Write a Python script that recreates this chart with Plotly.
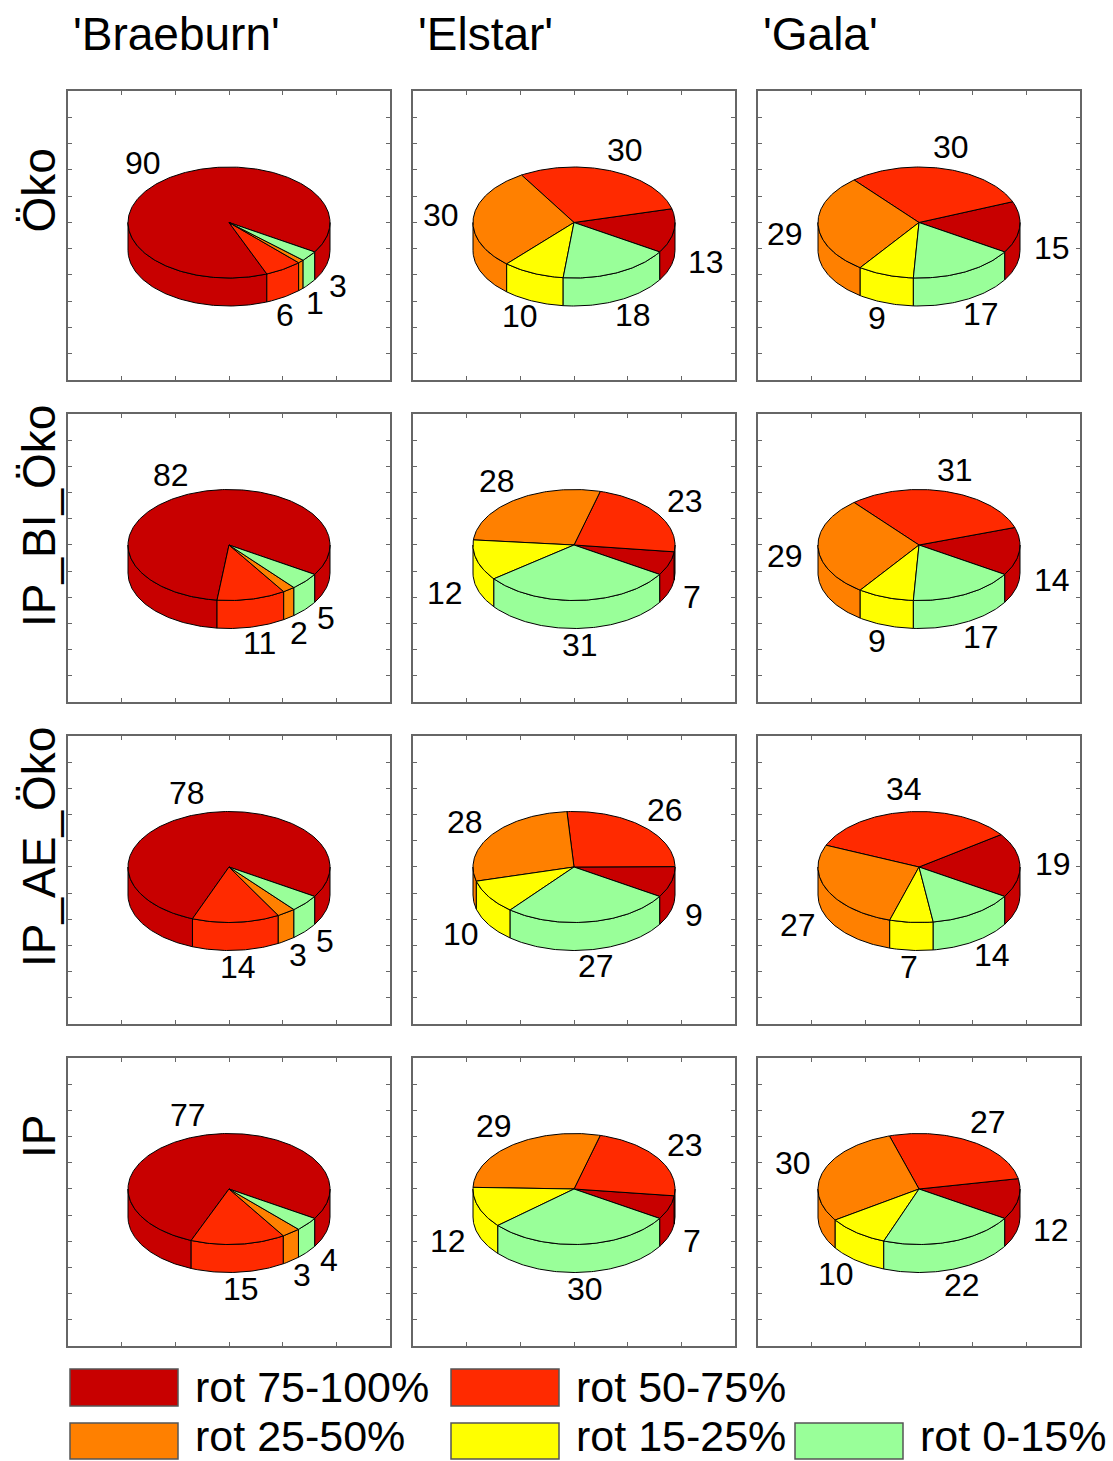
import numpy as np
import plotly.graph_objects as go

# ---------------- data ----------------
varieties = ["'Braeburn'", "'Elstar'", "'Gala'"]
systems = ["Öko", "IP_BI_Öko", "IP_AE_Öko", "IP"]
classes = ["rot 75-100%", "rot 50-75%", "rot 25-50%", "rot 15-25%", "rot 0-15%"]
colors = ["#C80000", "#FF2A00", "#FF8000", "#FFFF00", "#99FF99"]

# shares (%) per system (rows: Öko, IP_BI_Öko, IP_AE_Öko, IP); order = classes
braeburn = [[90, 6, 1, 0, 3], [82, 11, 2, 0, 5], [78, 14, 3, 0, 5], [77, 15, 3, 0, 4]]
elstar = [[13, 30, 30, 10, 18], [7, 23, 28, 12, 31], [9, 26, 28, 10, 27], [7, 23, 29, 12, 30]]
gala = [[15, 30, 29, 9, 17], [14, 31, 29, 9, 17], [19, 34, 27, 7, 14], [12, 27, 30, 10, 22]]
values = [braeburn, elstar, gala]

# ---------------- layout constants ----------------
W, H = 1113, 1461
col_px = [(68, 390), (413, 735), (758, 1080)]
row_px = [(91, 380), (414, 702), (736, 1024), (1058, 1346)]
row_label_dy = [-45, -42, -33, -65]
FONT = "Liberation Sans, Arial, sans-serif"

RX, RY, DEPTH, CY = 101.0, 55.5, 28.0, 13.0
START = -32.0
KX, KY_TOP, KY_BOT, OFF, MINSEP = 1.15, 1.2, 1.09, 28.0, 17.0
LAB_SIZE = 32


def px2x(px):
    return px / W


def px2y(py):
    return 1 - py / H


fig = go.Figure()
layout = dict(
    width=W, height=H, margin=dict(l=0, r=0, t=0, b=0),
    paper_bgcolor="white", plot_bgcolor="white", showlegend=False,
)
annotations = []
shapes = []


def arc(a, b, dz=0.0):
    n = max(2, int(abs(b - a)) + 2)
    t = np.radians(np.linspace(a, b, n))
    return RX * np.cos(t), CY + RY * np.sin(t) - dz


p = 0
for r in range(4):
    for c in range(3):
        p += 1
        xa = "x" if p == 1 else f"x{p}"
        ya = "y" if p == 1 else f"y{p}"
        xk = "xaxis" if p == 1 else f"xaxis{p}"
        yk = "yaxis" if p == 1 else f"yaxis{p}"
        x0, x1 = col_px[c]
        y0, y1 = row_px[r]
        hw, hh = (x1 - x0) / 2, (y1 - y0) / 2
        common = dict(showgrid=False, zeroline=False, showticklabels=False,
                      ticks="inside", ticklen=4, tickcolor="#666", tickwidth=1,
                      showline=True, linecolor="#666", linewidth=1.5,
                      mirror="ticks", fixedrange=True)
        layout[xk] = dict(domain=[px2x(x0), px2x(x1)], range=[-hw, hw],
                          anchor=ya, tick0=-hw, dtick=2 * hw / 6, **common)
        layout[yk] = dict(domain=[px2y(y1), px2y(y0)], range=[-hh, hh],
                          anchor=xa, tick0=-hh, dtick=2 * hh / 11, **common)

        vals = values[c][r]
        total = float(sum(vals))
        a = START
        slices = []
        for i, v in enumerate(vals):
            span = 360.0 * v / total
            slices.append((i, v, a, a + span))
            a += span

        # side walls (front half: sin < 0)
        for i, v, s, e in slices:
            if v <= 0:
                continue
            for lo_f, hi_f in ((-180.0, 0.0), (180.0, 360.0)):
                lo, hi = max(s, lo_f), min(e, hi_f)
                if hi - lo <= 0.01:
                    continue
                tx, ty = arc(lo, hi)
                bx, by = arc(hi, lo, DEPTH)
                xs = np.concatenate([tx, bx, tx[:1]])
                ys = np.concatenate([ty, by, ty[:1]])
                fig.add_trace(go.Scatter(x=xs, y=ys, xaxis=xa, yaxis=ya, mode="lines",
                                         fill="toself", fillcolor=colors[i],
                                         line=dict(color="black", width=1),
                                         hoverinfo="skip"))
        # top faces
        for i, v, s, e in slices:
            if v <= 0:
                continue
            tx, ty = arc(s, e)
            xs = np.concatenate([[0], tx, [0]])
            ys = np.concatenate([[CY], ty, [CY]])
            fig.add_trace(go.Scatter(x=xs, y=ys, xaxis=xa, yaxis=ya, mode="lines",
                                     fill="toself", fillcolor=colors[i],
                                     line=dict(color="black", width=1),
                                     hoverinfo="skip"))

        # labels with simple collision relaxation
        labs = [(v, (s + e) / 2) for i, v, s, e in slices if v > 0]
        labs.sort(key=lambda t: t[1])
        mids = [m for _, m in labs]
        for _ in range(200):
            moved = False
            for j in range(len(mids) - 1):
                d = mids[j + 1] - mids[j]
                if d < MINSEP - 1e-6:
                    push = (MINSEP - d) / 2
                    mids[j] -= push
                    mids[j + 1] += push
                    moved = True
            if not moved:
                break
        for (v, _), m in zip(labs, mids):
            t = np.radians(m)
            txt = str(v)
            half_w = 0.278 * LAB_SIZE * len(txt)
            half_h = 0.36 * LAB_SIZE
            sn, cs = np.sin(t), np.cos(t)
            lx = (KX * RX + half_w) * cs
            ky = KY_TOP if sn > 0 else KY_BOT
            ly = CY + (ky * RY + half_h) * sn - OFF * min(1.0, max(0.0, -8 * sn))
            annotations.append(dict(x=lx, y=ly, xref=xa, yref=ya, text=txt,
                                    showarrow=False, xanchor="center", yanchor="middle",
                                    font=dict(family=FONT, size=LAB_SIZE, color="black")))

# column titles
for c, name in enumerate(varieties):
    annotations.append(dict(x=px2x(col_px[c][0] + 3), y=px2y(34), xref="paper", yref="paper",
                            text=name, showarrow=False, xanchor="left", yanchor="middle",
                            font=dict(family=FONT, size=46, color="black")))
# row titles
for r, name in enumerate(systems):
    yc = (row_px[r][0] + row_px[r][1]) / 2 + row_label_dy[r]
    annotations.append(dict(x=px2x(39), y=px2y(yc), xref="paper", yref="paper",
                            text=name, showarrow=False, textangle=-90,
                            xanchor="center", yanchor="middle",
                            font=dict(family=FONT, size=46, color="black")))

# legend
leg_pos = [(70, 193, 0), (451, 574, 0), (70, 193, 1), (451, 574, 1), (795, 918, 1)]
leg_rows = [(1369, 1406), (1423, 1459)]
leg_text_y = [1387, 1436]
for i, (bx, tx, rr) in enumerate(leg_pos):
    ya0, ya1 = leg_rows[rr]
    shapes.append(dict(type="rect", xref="paper", yref="paper",
                       x0=px2x(bx), x1=px2x(bx + 108), y0=px2y(ya1), y1=px2y(ya0),
                       fillcolor=colors[i], line=dict(color="#555", width=1.5)))
    annotations.append(dict(x=px2x(tx), y=px2y(leg_text_y[rr]), xref="paper", yref="paper",
                            text=classes[i], showarrow=False, xanchor="left", yanchor="middle",
                            font=dict(family=FONT, size=43, color="black")))

layout["annotations"] = annotations
layout["shapes"] = shapes
fig.update_layout(**layout)
fig.write_html("out.html")
